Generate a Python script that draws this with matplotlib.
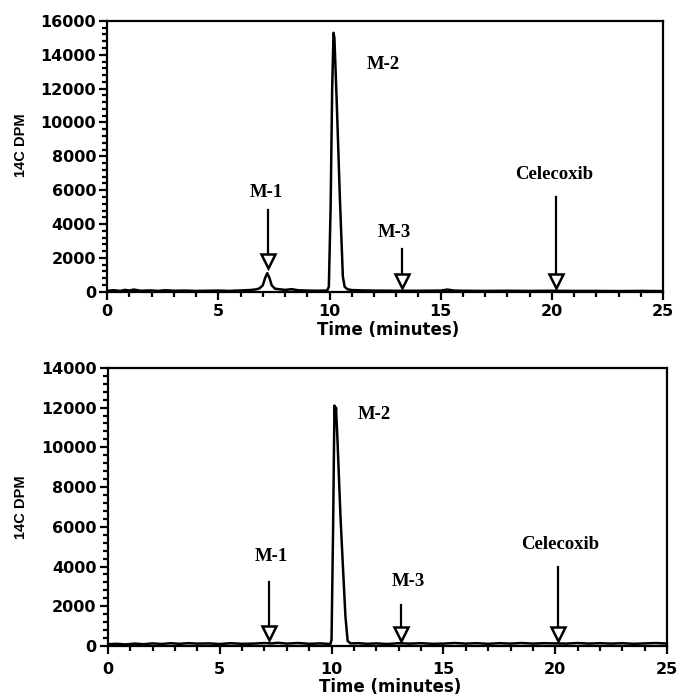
#!/usr/bin/env python3
"""Radio-chromatograms (14C DPM vs time) of celecoxib metabolites, two runs."""

import matplotlib
matplotlib.use("Agg")
import matplotlib.pyplot as plt
from matplotlib.ticker import MultipleLocator

# ---- data ----
top_time = [0.0, 0.3, 0.6, 0.8, 1.0, 1.2, 1.5, 2.0, 2.3, 2.6, 3.0, 3.5, 4.0,
            4.5, 5.0, 5.5, 6.0, 6.4, 6.7, 6.85, 7.0, 7.1, 7.2, 7.3, 7.4, 7.55,
            7.8, 8.0, 8.3, 8.6, 9.0, 9.5, 9.9, 9.97, 10.05, 10.12, 10.18,
            10.22, 10.32, 10.47, 10.6, 10.68, 10.8, 11.0, 11.5, 12.0, 13.0,
            14.0, 15.0, 15.3, 15.6, 16.0, 17.0, 18.0, 19.0, 20.0, 21.0, 22.0,
            23.0, 24.0, 25.0]
top_dpm = [60, 90, 50, 110, 70, 130, 60, 80, 50, 90, 60, 70, 50,
           60, 70, 50, 80, 100, 140, 200, 380, 800, 1100, 820, 380, 180,
           140, 110, 150, 90, 70, 60, 80, 300, 5000, 12000, 15300,
           15000, 11400, 5400, 900, 300, 150, 100, 80, 70, 60,
           60, 70, 130, 70, 60, 50, 60, 50, 60, 50, 50,
           40, 50, 40]

bottom_time = [0.0, 0.4, 0.8, 1.2, 1.6, 2.0, 2.4, 2.8, 3.2, 3.6, 4.0, 4.5,
               5.0, 5.5, 6.0, 6.5, 7.0, 7.3, 7.6, 8.0, 8.5, 9.0, 9.5, 9.95,
               10.0, 10.07, 10.13, 10.17, 10.2, 10.26, 10.4, 10.5, 10.62,
               10.72, 10.85, 11.2, 11.6, 12.0, 12.5, 13.0, 13.5, 14.0, 14.5,
               15.0, 15.5, 16.0, 16.5, 17.0, 17.5, 18.0, 18.5, 19.0, 19.5,
               20.0, 20.5, 21.0, 21.5, 22.0, 22.5, 23.0, 23.5, 24.0, 24.5, 25.0]
bottom_dpm = [90, 110, 80, 120, 90, 130, 100, 140, 110, 140, 120, 130,
              100, 140, 110, 120, 150, 130, 160, 120, 150, 110, 130, 100,
              300, 6000, 12100, 11500, 12000, 10500, 6500, 4200, 1500,
              250, 130, 140, 110, 130, 100, 140, 120, 140, 110,
              120, 150, 120, 140, 110, 140, 120, 150, 120, 140,
              130, 120, 150, 120, 140, 120, 140, 110, 130, 150, 120]

# label text, label x, label y, arrow x, arrow top, triangle centre
top_labels = ["M-1", "M-2", "M-3", "Celecoxib"]
top_label_x = [7.15, 12.4, 12.9, 20.1]
top_label_y = [5860, 13430, 3490, 6920]
top_arrow_x = [7.25, None, 13.25, 20.2]
top_arrow_top = [4850, None, 2500, 5600]
top_arrow_tip = [1830, None, 650, 650]

bottom_labels = ["M-1", "M-2", "M-3", "Celecoxib"]
bottom_label_x = [7.3, 11.9, 13.45, 20.2]
bottom_label_y = [4500, 11630, 3240, 5090]
bottom_arrow_x = [7.2, None, 13.1, 20.1]
bottom_arrow_top = [3200, None, 2060, 4000]
bottom_arrow_tip = [650, None, 600, 600]

SANS = "DejaVu Sans"
SERIF = "Liberation Serif"


def style_axes(ax, ymax, ymajor, xpad, xlabel_y, ylabel_y):
    ax.set_xlim(0, 25)
    ax.set_ylim(0, ymax)
    ax.xaxis.set_major_locator(MultipleLocator(5))
    ax.xaxis.set_minor_locator(MultipleLocator(1))
    ax.yaxis.set_major_locator(MultipleLocator(ymajor))
    ax.yaxis.set_minor_locator(MultipleLocator(ymajor / 5))
    ax.tick_params(which="both", direction="out", width=1.6, top=False, right=False)
    ax.tick_params(which="major", length=6, labelsize=11.5)
    ax.tick_params(which="minor", length=3.5)
    ax.tick_params(axis="x", which="major", length=5.5, pad=xpad)
    ax.tick_params(axis="y", which="major", pad=2)
    for lab in ax.get_xticklabels() + ax.get_yticklabels():
        lab.set_fontfamily(SANS)
        lab.set_fontweight("bold")
    for sp in ax.spines.values():
        sp.set_linewidth(1.6)
    ax.set_xlabel("Time (minutes)", fontsize=12, fontweight="bold",
                  family=SANS, va="center")
    ax.xaxis.set_label_coords(0.505, xlabel_y)
    ax.set_ylabel("14C DPM", fontsize=10.5, fontweight="bold",
                  family="Liberation Sans", va="center")
    ax.yaxis.set_label_coords(-0.155, ylabel_y)


def annotate_peaks(ax, labels, lx, ly, ax_x, ax_top, ax_tip):
    for i, text in enumerate(labels):
        ax.text(lx[i], ly[i], text, ha="center", va="center", fontsize=13.5,
                fontweight="bold", family=SERIF)
        if ax_x[i] is None:
            continue
        ax.plot([ax_x[i], ax_x[i]], [ax_top[i], ax_tip[i]], color="black", lw=1.6)
        ax.plot([ax_x[i]], [ax_tip[i]], marker="v", markersize=10,
                markerfacecolor="white", markeredgecolor="black",
                markeredgewidth=1.8, clip_on=False)


fig = plt.figure(figsize=(6.78, 6.98), dpi=100)
ax1 = fig.add_axes([0.158, 0.582, 0.820, 0.388])
ax2 = fig.add_axes([0.159, 0.0745, 0.825, 0.3985])

ax1.plot(top_time, top_dpm, color="black", lw=1.8)
style_axes(ax1, 16000, 2000, xpad=3, xlabel_y=-0.14, ylabel_y=0.54)
annotate_peaks(ax1, top_labels, top_label_x, top_label_y,
               top_arrow_x, top_arrow_top, top_arrow_tip)

ax2.plot(bottom_time, bottom_dpm, color="black", lw=1.8)
style_axes(ax2, 14000, 2000, xpad=6, xlabel_y=-0.147, ylabel_y=0.50)
annotate_peaks(ax2, bottom_labels, bottom_label_x, bottom_label_y,
               bottom_arrow_x, bottom_arrow_top, bottom_arrow_tip)

fig.savefig("out.png", dpi=100)
